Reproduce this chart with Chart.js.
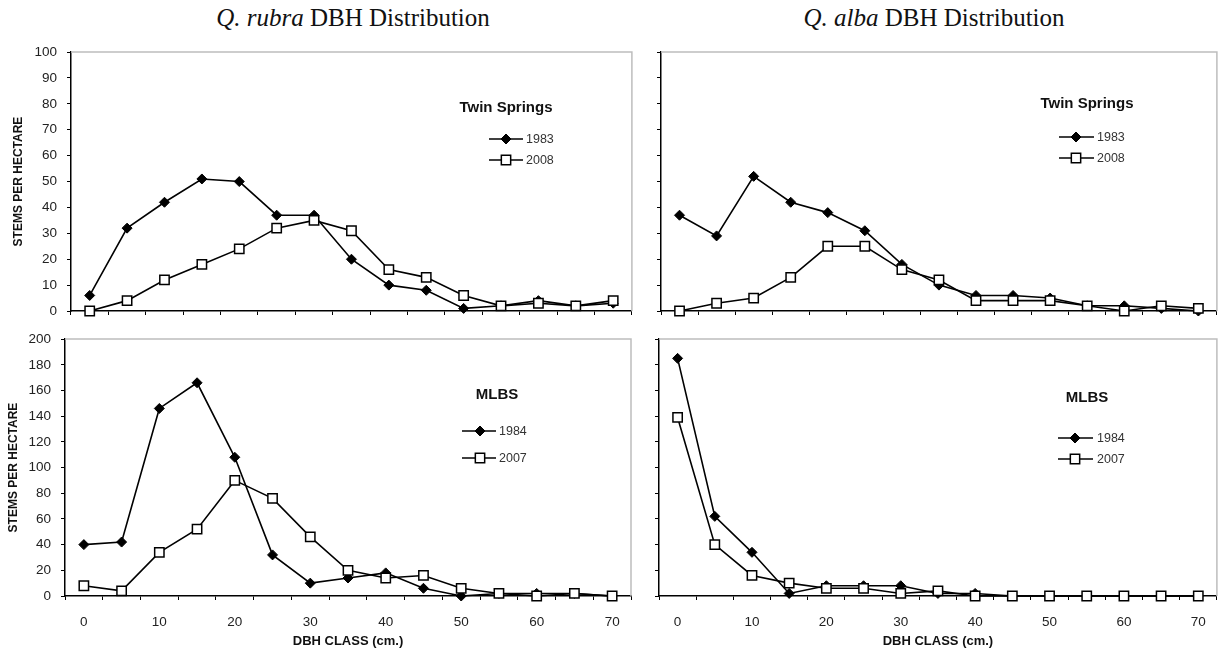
<!DOCTYPE html>
<html><head><meta charset="utf-8">
<script src="https://cdn.jsdelivr.net/npm/chart.js@4.4.0/dist/chart.umd.min.js"></script>
<style>
html,body{margin:0;padding:0;background:#fff;width:1225px;height:651px;overflow:hidden;}
.box{position:absolute;}
.ttl{position:absolute;top:5px;line-height:25px;font-family:"Liberation Serif","Times New Roman",serif;font-size:25px;color:#111;white-space:nowrap;transform:translateX(-50%);}
</style></head><body>
<div class="ttl" style="left:353px"><i>Q. rubra</i> DBH Distribution</div>
<div class="ttl" style="left:934px"><i>Q. alba</i> DBH Distribution</div>
<div class="box" style="left:0px;top:34px;width:640px;height:306px"><canvas id="c1"></canvas></div>
<div class="box" style="left:640px;top:34px;width:585px;height:306px"><canvas id="c2"></canvas></div>
<div class="box" style="left:0px;top:321px;width:640px;height:330px"><canvas id="c3"></canvas></div>
<div class="box" style="left:640px;top:321px;width:585px;height:330px"><canvas id="c4"></canvas></div>
<script>
// ---- data ----
const dbhClasses = ['0','5','10','15','20','25','30','35','40','45','50','55','60','65','70'];
const rubraTwin1983 = [6,32,42,51,50,37,37,20,10,8,1,2,4,2,3];
const rubraTwin2008 = [0,4,12,18,24,32,35,31,16,13,6,2,3,2,4];
const albaTwin1983  = [37,29,52,42,38,31,18,10,6,6,5,2,2,1,0];
const albaTwin2008  = [0,3,5,13,25,25,16,12,4,4,4,2,0,2,1];
const rubraMlbs1984 = [40,42,146,166,108,32,10,14,18,6,0,2,2,2,0];
const rubraMlbs2007 = [8,4,34,52,90,76,46,20,14,16,6,2,0,2,0];
const albaMlbs1984  = [185,62,34,2,8,8,8,2,2,0,0,0,0,0,0];
const albaMlbs2007  = [139,40,16,10,6,6,2,4,0,0,0,0,0,0,0];
const yTopMax = 100, yTopStep = 10;
const yBotMax = 200, yBotStep = 20;
const siteTwin = 'Twin Springs', siteMlbs = 'MLBS';
const yearsTwin = ['1983','2008'];
const yearsMlbs = ['1984','2007'];
const yTitle = 'STEMS PER HECTARE';
const xTitle = 'DBH CLASS (cm.)';

const SANS = '"Liberation Sans", Arial, sans-serif';

const framePlugin = {
  id: 'frame',
  beforeDatasetsDraw(chart) {
    const {ctx, chartArea: a} = chart;
    ctx.save();
    ctx.strokeStyle = '#bdbdbd';
    ctx.lineWidth = 1.5;
    ctx.beginPath();
    ctx.moveTo(a.left, a.top);
    ctx.lineTo(a.right, a.top);
    ctx.lineTo(a.right, a.bottom);
    ctx.stroke();
    ctx.restore();
  }
};

const inlineLegend = {
  id: 'inlineLegend',
  afterDraw(chart, args, o) {
    if (!o || !o.title) return;
    const ctx = chart.ctx;
    const box = chart.canvas.parentNode;
    const ox = box.offsetLeft, oy = box.offsetTop;
    ctx.save();
    ctx.fillStyle = '#111';
    ctx.font = 'bold 15px ' + SANS;
    ctx.textAlign = 'center';
    ctx.textBaseline = 'middle';
    ctx.fillText(o.title, o.hx - ox, o.hy - oy);
    chart.data.datasets.forEach((ds, i) => {
      const y = o.iy[i] - oy;
      ctx.strokeStyle = '#000';
      ctx.lineWidth = 1.6;
      ctx.beginPath();
      ctx.moveTo(o.lx0 - ox, y);
      ctx.lineTo(o.lx1 - ox, y);
      ctx.stroke();
      ctx.fillStyle = ds.pointBackgroundColor;
      ctx.strokeStyle = ds.pointBorderColor;
      ctx.lineWidth = ds.pointBorderWidth;
      Chart.helpers.drawPoint(ctx, {pointStyle: ds.pointStyle, radius: ds.pointRadius, rotation: 0, borderWidth: ds.pointBorderWidth}, o.mx - ox, y);
      ctx.fillStyle = '#333';
      ctx.font = '12.5px ' + SANS;
      ctx.textAlign = 'left';
      ctx.fillText(ds.label, o.tx - ox, y + 0.5);
    });
    ctx.restore();
  }
};

function makeChart(id, p) {
  const datasets = [
    {label: p.years[0], data: p.a, borderColor: '#000', borderWidth: 1.6,
     pointStyle: 'rectRot', pointRadius: 5, pointBackgroundColor: '#000', pointBorderColor: '#000', pointBorderWidth: 1,
     order: 1, clip: false},
    {label: p.years[1], data: p.b, borderColor: '#000', borderWidth: 1.6,
     pointStyle: 'rect', pointRadius: 6.6, pointBackgroundColor: '#fff', pointBorderColor: '#000', pointBorderWidth: 1.5,
     order: 0, clip: false}
  ];
  return new Chart(document.getElementById(id), {
    type: 'line',
    data: {labels: dbhClasses, datasets},
    options: {
      responsive: true, maintainAspectRatio: false, animation: false, devicePixelRatio: 1,
      layout: {padding: p.pad},
      plugins: {legend: {display: false}, tooltip: {enabled: false}, inlineLegend: p.legend},
      scales: {
        x: {
          type: 'category', offset: true,
          grid: {offset: true, drawOnChartArea: false, drawTicks: true, tickLength: 4, color: '#000', lineWidth: 1},
          border: {display: true, color: '#000', width: 1.5},
          ticks: {autoSkip: false, maxRotation: 0, padding: 14, color: '#222', font: {size: 13.5, family: SANS},
            callback: (v, i) => (p.xLabels && i % 2 === 0) ? dbhClasses[i] : ''},
          title: {display: p.xLabels, text: xTitle, color: '#111', font: {size: 13, weight: 'bold', family: SANS}, padding: {top: 0, bottom: 2}},
          afterFit: s => { s.height = p.xh; }
        },
        y: {
          min: 0, max: p.ymax,
          grid: {drawOnChartArea: false, drawTicks: true, tickLength: 4, color: '#000', lineWidth: 1},
          border: {display: true, color: '#000', width: 1.5},
          ticks: {stepSize: p.ystep, padding: 10, color: '#222', font: {size: 13.5, family: SANS},
            callback: v => p.yLabels ? String(v) : ''},
          title: {display: p.yLabels, text: yTitle, color: '#111', font: {size: 12, weight: 'bold', family: SANS}, padding: {top: p.ytp, bottom: 0}},
          afterFit: s => { s.width = p.yw; }
        }
      }
    },
    plugins: [framePlugin, inlineLegend]
  });
}

makeChart('c1', {a: rubraTwin1983, b: rubraTwin2008, years: yearsTwin, ymax: yTopMax, ystep: yTopStep,
  pad: {top: 0, right: 7, bottom: 0, left: 0}, xh: 29, yw: 71, ytp: 11, xLabels: false, yLabels: true,
  legend: {title: siteTwin, hx: 506, hy: 108, iy: [139, 160], lx0: 489, lx1: 523, mx: 506, tx: 526}});
makeChart('c2', {a: albaTwin1983, b: albaTwin2008, years: yearsTwin, ymax: yTopMax, ystep: yTopStep,
  pad: {top: 0, right: 4, bottom: 0, left: 0}, xh: 29, yw: 21, ytp: 0, xLabels: false, yLabels: false,
  legend: {title: siteTwin, hx: 1087, hy: 104, iy: [137, 158], lx0: 1059, lx1: 1094, mx: 1076, tx: 1097}});
makeChart('c3', {a: rubraMlbs1984, b: rubraMlbs2007, years: yearsMlbs, ymax: yBotMax, ystep: yBotStep,
  pad: {top: 0, right: 9, bottom: 0, left: 0}, xh: 55, yw: 65, ytp: 6, xLabels: true, yLabels: true,
  legend: {title: siteMlbs, hx: 497, hy: 395, iy: [431, 458], lx0: 462, lx1: 496, mx: 480, tx: 499}});
makeChart('c4', {a: albaMlbs1984, b: albaMlbs2007, years: yearsMlbs, ymax: yBotMax, ystep: yBotStep,
  pad: {top: 0, right: 4, bottom: 0, left: 0}, xh: 55, yw: 19, ytp: 0, xLabels: true, yLabels: false,
  legend: {title: siteMlbs, hx: 1087, hy: 398, iy: [438, 459], lx0: 1058, lx1: 1093, mx: 1075, tx: 1097}});
</script>
</body></html>
